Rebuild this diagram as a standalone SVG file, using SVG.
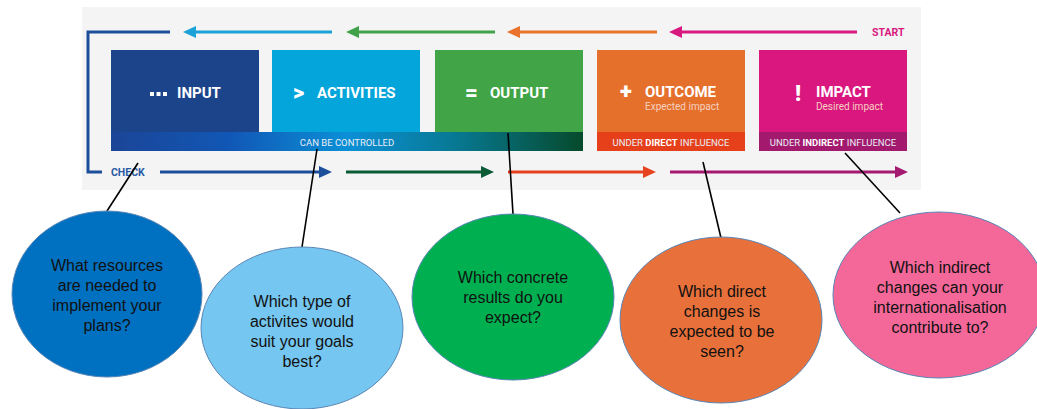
<svg xmlns="http://www.w3.org/2000/svg" width="1037" height="409" viewBox="0 0 1037 409">
<style>
.hd{font-family:Roboto,"Liberation Sans",sans-serif;font-weight:bold;font-size:15px;fill:#fff}
.ic{font-family:Roboto,"Liberation Sans",sans-serif;font-weight:900;font-size:22px;fill:#fff}
.sub{font-family:Roboto,"Liberation Sans",sans-serif;font-size:10px;fill:#f6d0c0}
.band{font-family:Roboto,"Liberation Sans",sans-serif;font-size:9.5px;fill:#e8eef6;text-anchor:middle}
.lbl{font-family:Roboto,"Liberation Sans",sans-serif;font-weight:bold;font-size:10.5px}
.q{font-family:"Liberation Sans",Arial,sans-serif;font-size:16px;fill:#111;text-anchor:middle}
.ell{stroke:#5a86b5;stroke-width:1}
.ar{fill:none;stroke-width:3}
.cn{stroke:#000;stroke-width:1.6;fill:none}
</style>
<defs>
<linearGradient id="gctl" x1="0" y1="0" x2="1" y2="0">
<stop offset="0" stop-color="#1b4597"/>
<stop offset="0.25" stop-color="#1157b5"/>
<stop offset="0.5" stop-color="#0b8fd6"/>
<stop offset="0.72" stop-color="#087a96"/>
<stop offset="1" stop-color="#064a2c"/>
</linearGradient>
<marker id="mLB" markerUnits="userSpaceOnUse" markerWidth="14" markerHeight="12" refX="6" refY="6" orient="auto"><path d="M0,0 L13,6 L0,12 z" fill="#1aa2d8"/></marker>
<marker id="mG" markerUnits="userSpaceOnUse" markerWidth="14" markerHeight="12" refX="6" refY="6" orient="auto"><path d="M0,0 L13,6 L0,12 z" fill="#40a34a"/></marker>
<marker id="mO" markerUnits="userSpaceOnUse" markerWidth="14" markerHeight="12" refX="6" refY="6" orient="auto"><path d="M0,0 L13,6 L0,12 z" fill="#e9722c"/></marker>
<marker id="mM" markerUnits="userSpaceOnUse" markerWidth="14" markerHeight="12" refX="6" refY="6" orient="auto"><path d="M0,0 L13,6 L0,12 z" fill="#d81a80"/></marker>
<marker id="mB" markerUnits="userSpaceOnUse" markerWidth="14" markerHeight="12" refX="6" refY="6" orient="auto"><path d="M0,0 L13,6 L0,12 z" fill="#1d4e9c"/></marker>
<marker id="mDG" markerUnits="userSpaceOnUse" markerWidth="14" markerHeight="12" refX="6" refY="6" orient="auto"><path d="M0,0 L13,6 L0,12 z" fill="#0b5a36"/></marker>
<marker id="mR" markerUnits="userSpaceOnUse" markerWidth="14" markerHeight="12" refX="6" refY="6" orient="auto"><path d="M0,0 L13,6 L0,12 z" fill="#e6421f"/></marker>
<marker id="mP" markerUnits="userSpaceOnUse" markerWidth="14" markerHeight="12" refX="6" refY="6" orient="auto"><path d="M0,0 L13,6 L0,12 z" fill="#a31a70"/></marker>
</defs>
<rect width="1037" height="409" fill="#fff"/>
<rect id="panel" x="82" y="7" width="839" height="183" fill="#f4f4f4"/>

<g id="cycle-arrows">
<path class="ar" d="M170,32 H88 V172 H102" stroke="#1d4e9c"/>
<line class="ar" x1="332" y1="32" x2="190" y2="32" stroke="#1aa2d8" marker-end="url(#mLB)"/>
<line class="ar" x1="495" y1="32" x2="353" y2="32" stroke="#40a34a" marker-end="url(#mG)"/>
<line class="ar" x1="657" y1="32" x2="514" y2="32" stroke="#e9722c" marker-end="url(#mO)"/>
<line class="ar" x1="857" y1="32" x2="676" y2="32" stroke="#d81a80" marker-end="url(#mM)"/>
<line class="ar" x1="160" y1="172" x2="325" y2="172" stroke="#1d4e9c" marker-end="url(#mB)"/>
<line class="ar" x1="346" y1="172" x2="487" y2="172" stroke="#0b5a36" marker-end="url(#mDG)"/>
<line class="ar" x1="508" y1="172" x2="649" y2="172" stroke="#e6421f" marker-end="url(#mR)"/>
<line class="ar" x1="670" y1="172" x2="901" y2="172" stroke="#a31a70" marker-end="url(#mP)"/>
<text class="lbl" x="872" y="36" fill="#d81a80">START</text>
<text class="lbl" x="111" y="176" fill="#2a5aa5">CHECK</text>
</g>

<g id="input">
<rect x="111" y="50" width="148" height="83" fill="#1b448a"/>
<rect x="150" y="92" width="4" height="4" fill="#fff"/>
<rect x="156.5" y="92" width="4" height="4" fill="#fff"/>
<rect x="163" y="92" width="4" height="4" fill="#fff"/>
<text class="hd" x="177" y="98">INPUT</text>
</g>
<g id="activities">
<rect x="272" y="50" width="148" height="83" fill="#03a5da"/>
<text class="ic" x="293" y="100">&gt;</text>
<text class="hd" x="317" y="98">ACTIVITIES</text>
</g>
<g id="output">
<rect x="435" y="50" width="148" height="83" fill="#41a447"/>
<text class="ic" x="465" y="100">=</text>
<text class="hd" x="490" y="98">OUTPUT</text>
</g>
<g id="controlled-band">
<rect x="111" y="132" width="472" height="19" fill="url(#gctl)"/>
<text class="band" x="347" y="146">CAN BE CONTROLLED</text>
</g>
<g id="outcome">
<rect x="597" y="50" width="148" height="83" fill="#e5702c"/>
<rect x="597" y="132" width="148" height="19" fill="#e6401b"/>
<text class="ic" x="620" y="99">+</text>
<text class="hd" x="645" y="97">OUTCOME</text>
<text class="sub" x="645" y="110">Expected impact</text>
<text class="band" x="671" y="146">UNDER <tspan font-weight="bold" fill="#fff">DIRECT</tspan> INFLUENCE</text>
</g>
<g id="impact">
<rect x="759" y="50" width="148" height="83" fill="#d9177f"/>
<rect x="759" y="132" width="148" height="19" fill="#a3196e"/>
<text class="ic" x="795" y="101">!</text>
<text class="hd" x="816" y="97">IMPACT</text>
<text class="sub" x="816" y="110" fill="#f5c6dd">Desired impact</text>
<text class="band" x="833" y="146">UNDER <tspan font-weight="bold" fill="#fff">INDIRECT</tspan> INFLUENCE</text>
</g>

<g id="connectors">
<line class="cn" x1="138" y1="163" x2="107" y2="211"/>
<line class="cn" x1="317" y1="149" x2="302" y2="247"/>
<line class="cn" x1="508" y1="133" x2="513" y2="214"/>
<line class="cn" x1="703" y1="162" x2="721" y2="238"/>
<line class="cn" x1="845" y1="153" x2="900" y2="213"/>
</g>

<g id="q-input">
<ellipse class="ell" cx="107" cy="294" rx="95" ry="83" fill="#0070c0"/>
<text class="q" x="107" y="271">What resources</text>
<text class="q" x="107" y="291">are needed to</text>
<text class="q" x="107" y="311">implement your</text>
<text class="q" x="107" y="331">plans?</text>
</g>
<g id="q-activities">
<ellipse class="ell" cx="302" cy="328" rx="101" ry="81" fill="#75c6f0"/>
<text class="q" x="302" y="307">Which type of</text>
<text class="q" x="302" y="327">activites would</text>
<text class="q" x="302" y="347">suit your goals</text>
<text class="q" x="302" y="367">best?</text>
</g>
<g id="q-output">
<ellipse class="ell" cx="513" cy="297" rx="101" ry="83" fill="#00b050"/>
<text class="q" x="513" y="283">Which concrete</text>
<text class="q" x="513" y="303">results do you</text>
<text class="q" x="513" y="323">expect?</text>
</g>
<g id="q-outcome">
<ellipse class="ell" cx="721" cy="320" rx="101" ry="83" fill="#e8703a"/>
<text class="q" x="722" y="297">Which direct</text>
<text class="q" x="722" y="317">changes is</text>
<text class="q" x="722" y="337">expected to be</text>
<text class="q" x="722" y="357">seen?</text>
</g>
<g id="q-impact">
<ellipse class="ell" cx="939" cy="295" rx="106" ry="83" fill="#f46899"/>
<text class="q" x="940" y="273">Which indirect</text>
<text class="q" x="940" y="293">changes can your</text>
<text class="q" x="940" y="313">internationalisation</text>
<text class="q" x="940" y="333">contribute to?</text>
</g>
</svg>
